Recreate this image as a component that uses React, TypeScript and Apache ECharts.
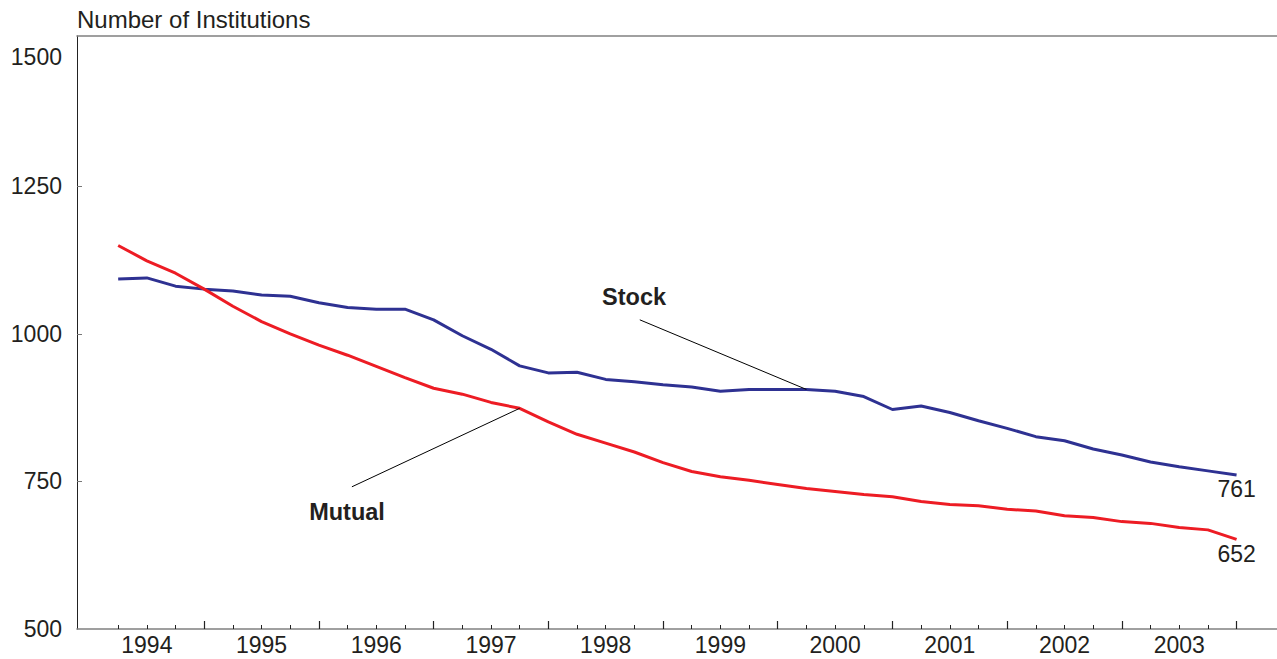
import React, { useEffect, useRef } from 'react';
import * as echarts from 'echarts';

// Quarter-end observations, March 1994 through December 2003
const years = ['1994', '1995', '1996', '1997', '1998', '1999', '2000', '2001', '2002', '2003'];
const quartersPerYear = 4;

const stock = [
  1093, 1095, 1081, 1076, 1073, 1066, 1064, 1053, 1045, 1042,
  1042, 1024, 997, 974, 946, 934, 935, 923, 919, 914,
  910, 903, 906, 906, 906, 903, 894, 872, 878, 867,
  853, 840, 826, 819, 805, 795, 783, 775, 768, 761,
];

const mutual = [
  1150, 1124, 1103, 1076, 1047, 1021, 1000, 981, 964, 945,
  926, 908, 898, 884, 874, 851, 830, 815, 800, 782,
  767, 758, 752, 745, 738, 733, 728, 724, 716, 711,
  709, 703, 700, 692, 689, 682, 679, 672, 668, 652,
];

const yTickLabels = [500, 750, 1000, 1250, 1500];
const yTickMarks = [750, 1000, 1250];

// annotation anchors in data space: [quarter index, institutions]
const stockLabelAt = [18.99, 1063];
const stockLeader = [[19.19, 1024], [25, 906]];
const mutualLabelAt = [8.98, 698];
const mutualLeader = [[9.15, 741], [15, 874]];

const FONT = '"Liberation Sans", Arial, Helvetica, sans-serif';
const TEXT = '#231f20';
const BLUE = '#2e3192';
const RED = '#ed1c24';
const X_MIN = -0.436;
const X_MAX = 41.41;
const TICK_FONT = 23;

export default function App() {
  const ref = useRef<HTMLDivElement>(null);

  useEffect(() => {
    const chart = echarts.init(ref.current!, null, { renderer: 'svg' });

    const majorTicks: number[] = [];
    const minorTicks: number[] = [];
    const labelPos: number[] = [];
    years.forEach((_, i) => {
      majorTicks.push((i + 1) * quartersPerYear);
      labelPos.push(i * quartersPerYear + quartersPerYear / 2);
      for (let k = 1; k < quartersPerYear; k++) minorTicks.push(i * quartersPerYear + k);
    });

    const stockData = stock.map((v, i) => [i + 1, v]);
    const mutualData = mutual.map((v, i) => [i + 1, v]);

    const baseX = {
      type: 'value',
      min: X_MIN,
      max: X_MAX,
      splitLine: { show: false },
    };

    const endLabel = {
      show: true,
      formatter: (p: any) => String(p.value[1]),
      align: 'center',
      verticalAlign: 'top',
      distance: 0,
      offset: [0, 3],
      fontSize: TICK_FONT,
      fontFamily: FONT,
      color: TEXT,
    };

    const annotLabel = (text: string) => ({
      show: true,
      position: 'inside',
      formatter: text,
      fontSize: 23.5,
      fontWeight: 'bold',
      color: TEXT,
      fontFamily: FONT,
    });

    const option: any = {
      animation: false,
      backgroundColor: '#fff',
      textStyle: { fontFamily: FONT },
      grid: { left: 77, right: 0, top: 36, bottom: 30, containLabel: false },
      xAxis: [
        {
          ...baseX,
          position: 'bottom',
          axisLine: { show: true, onZero: false, lineStyle: { color: '#808080', width: 1.6 } },
          axisTick: {
            show: true,
            inside: true,
            length: 8,
            customValues: majorTicks,
            lineStyle: { color: '#222', width: 1.2 },
          },
          axisLabel: {
            show: true,
            customValues: labelPos,
            formatter: (v: number) => years[Math.round((v - quartersPerYear / 2) / quartersPerYear)] ?? '',
            fontSize: TICK_FONT,
            color: TEXT,
            fontFamily: FONT,
            margin: 4,
          },
        },
        {
          ...baseX,
          position: 'bottom',
          axisLine: { show: false, onZero: false },
          axisTick: {
            show: true,
            inside: true,
            length: 4,
            customValues: minorTicks,
            lineStyle: { color: '#222', width: 1 },
          },
          axisLabel: { show: false },
        },
        {
          ...baseX,
          position: 'top',
          axisLine: { show: true, onZero: false, lineStyle: { color: '#808080', width: 1.6 } },
          axisTick: { show: false },
          axisLabel: { show: false },
        },
      ],
      yAxis: [
        {
          type: 'value',
          min: 500,
          max: 1505,
          position: 'left',
          name: 'Number of Institutions',
          nameLocation: 'end',
          nameGap: 17,
          nameTextStyle: { align: 'left', verticalAlign: 'middle', fontSize: 24, color: TEXT, fontFamily: FONT },
          splitLine: { show: false },
          axisLine: { show: true, onZero: false, lineStyle: { color: '#222', width: 1 } },
          axisTick: {
            show: true,
            inside: true,
            length: 5,
            customValues: yTickMarks,
            lineStyle: { color: '#777', width: 1 },
          },
          axisLabel: {
            show: true,
            customValues: yTickLabels.filter((v) => v !== 1500),
            formatter: (v: number) => String(v),
            fontSize: TICK_FONT,
            color: TEXT,
            fontFamily: FONT,
            margin: 15,
          },
        },
        {
          type: 'value',
          min: 500,
          max: 1505,
          position: 'left',
          offset: 0,
          splitLine: { show: false },
          axisLine: { show: false, onZero: false },
          axisTick: { show: false },
          axisLabel: {
            show: true,
            customValues: yTickLabels.filter((v) => v === 1500),
            formatter: (v: number) => String(v),
            fontSize: TICK_FONT,
            color: TEXT,
            fontFamily: FONT,
            margin: 15,
            verticalAlign: 'top',
            lineHeight: 36,
          },
        },
      ],
      series: [
        {
          name: 'Stock',
          type: 'line',
          xAxisIndex: 0,
          yAxisIndex: 0,
          data: stockData,
          symbol: 'none',
          lineStyle: { color: BLUE, width: 3 },
          itemStyle: { color: BLUE },
          endLabel,
          markLine: {
            silent: true,
            symbol: ['none', 'none'],
            label: { show: false },
            lineStyle: { color: '#000', width: 1, type: 'solid' },
            data: [[{ coord: stockLeader[0] }, { coord: stockLeader[1] }]],
          },
          markPoint: {
            silent: true,
            symbol: 'circle',
            symbolSize: 0,
            label: annotLabel('Stock'),
            data: [{ coord: stockLabelAt }],
          },
        },
        {
          name: 'Mutual',
          type: 'line',
          xAxisIndex: 0,
          yAxisIndex: 0,
          data: mutualData,
          symbol: 'none',
          lineStyle: { color: RED, width: 3 },
          itemStyle: { color: RED },
          endLabel,
          markLine: {
            silent: true,
            symbol: ['none', 'none'],
            label: { show: false },
            lineStyle: { color: '#000', width: 1, type: 'solid' },
            data: [[{ coord: mutualLeader[0] }, { coord: mutualLeader[1] }]],
          },
          markPoint: {
            silent: true,
            symbol: 'circle',
            symbolSize: 0,
            label: annotLabel('Mutual'),
            data: [{ coord: mutualLabelAt }],
          },
        },
      ],
    };

    chart.setOption(option);
    return () => chart.dispose();
  }, []);

  return (
    <div
      ref={ref}
      style={{ position: 'fixed', left: 0, top: 0, width: 1277, height: 659, background: '#fff' }}
    />
  );
}
